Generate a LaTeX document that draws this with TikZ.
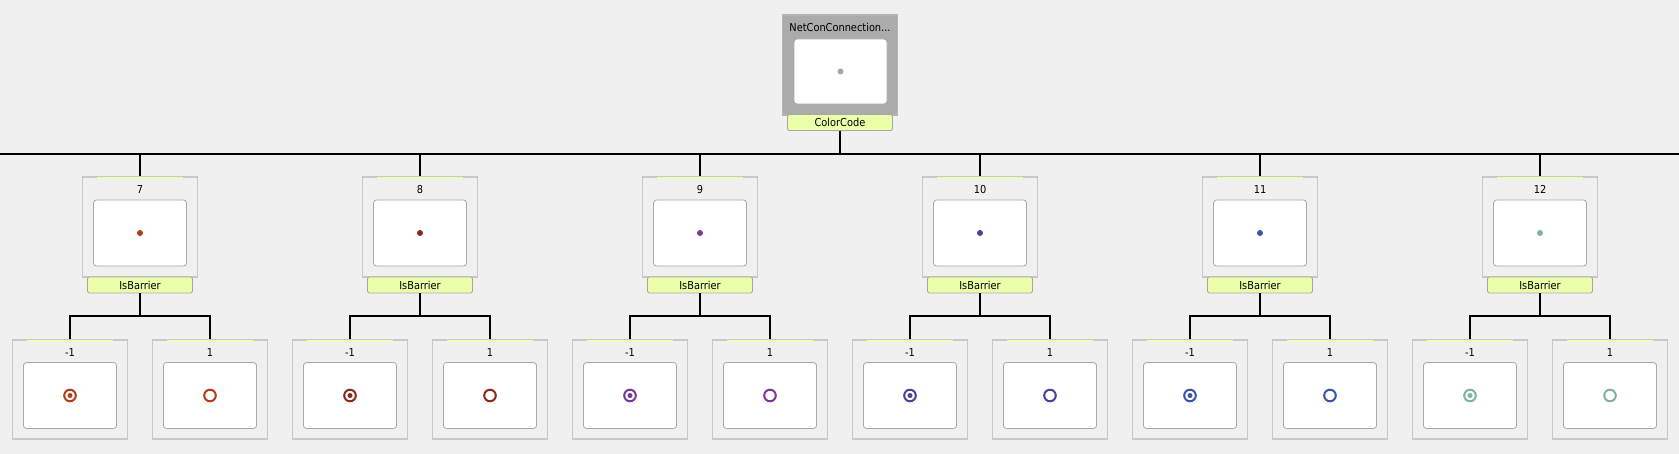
\documentclass[tikz,border=0pt]{standalone}
\usepackage{fontspec}
\setmainfont{DejaVu Sans Condensed}
\usetikzlibrary{calc}
\definecolor{bg}{HTML}{F0F0F0}
\definecolor{boxline}{HTML}{C8C8C8}
\definecolor{innerline}{HTML}{A8A8A8}
\definecolor{lblfill}{HTML}{EBFFAB}
\definecolor{lblline}{HTML}{A8A8A0}
\definecolor{stripecol}{HTML}{E6FFB4}
\definecolor{rootfill}{HTML}{ABABAB}
\definecolor{rootdot}{HTML}{A8A8A8}
\definecolor{cA}{HTML}{B23C18}
\definecolor{cB}{HTML}{8A2A1C}
\definecolor{cC}{HTML}{7A3898}
\definecolor{cD}{HTML}{4A4298}
\definecolor{cE}{HTML}{3B54A8}
\definecolor{cF}{HTML}{80B2A2}
\tikzset{
  outerbox/.style={rectangle, draw=boxline, line width=1.5pt, fill=bg, minimum width=115pt, minimum height=100pt, inner sep=0pt},
  rootbox/.style={outerbox, fill=rootfill, draw=boxline!90!black},
  innerbox/.style={rectangle, rounded corners=3pt, draw=innerline, line width=0.8pt, fill=white, minimum width=93pt, minimum height=66pt, inner sep=0pt},
  lblbox/.style={rectangle, rounded corners=1.5pt, draw=lblline, line width=0.8pt, fill=lblfill, minimum width=105pt, minimum height=16pt, inner sep=0pt, font=\fontsize{10.9}{12}\selectfont},
  stripe/.style={rectangle, fill=stripecol, minimum width=86pt, minimum height=2pt, inner sep=0pt},
  title/.style={inner sep=0pt, font=\fontsize{10.9}{12}\selectfont},
  conn/.style={draw=black, line width=2pt},
}
\begin{document}
\begin{tikzpicture}[x=1pt,y=-1pt]
\useasboundingbox[fill=bg] (0,0) rectangle (1679,454);
% root
\node[rootbox] (root) at (840,65) {};
\node[title] (roott) at (840,27.5) {NetConConnection...};
\node[innerbox, minimum height=65pt] (rooti) at (840.5,71.5) {};
\fill[rootdot] (rooti.center) circle[radius=3pt];
\node[lblbox] (rootl) at (840,122.5) {ColorCode};
\coordinate (busL) at (0,154);
\coordinate (busR) at (1679,154);
\draw[conn] (busL) -- (busR);
\draw[conn] (rootl.south) -- (rootl.south |- busL);
\foreach \cx/\n/\col in {140/7/cA, 420/8/cB, 700/9/cC, 980/10/cD, 1260/11/cE, 1540/12/cF}{
  \node[outerbox] (p\n) at (\cx,227) {};
  \node[stripe] (p\n s) at (\cx,178.5) {};
  \node[title] (p\n t) at (\cx,189.5) {\n};
  \node[innerbox] (p\n i) at (\cx,233) {};
  \fill[\col] (p\n i.center) circle[radius=3pt];
  \node[lblbox] (p\n l) at (\cx,285) {IsBarrier};
  \draw[conn] (p\n.north) -- (p\n.north |- busL);
  % children
  \node[outerbox, minimum height=99pt] (a\n) at (\cx-70,389.5) {};
  \node[stripe] (a\n s) at (\cx-70,341.5) {};
  \node[title] (a\n t) at (\cx-70,352.5) {-1};
  \node[innerbox] (a\n i) at (\cx-70,395.5) {};
  \draw[\col, line width=2pt] (a\n i.center) circle[radius=5.8pt];
  \fill[\col] (a\n i.center) circle[radius=2.5pt];
  \node[outerbox, minimum height=99pt] (b\n) at (\cx+70,389.5) {};
  \node[stripe] (b\n s) at (\cx+70,341.5) {};
  \node[title] (b\n t) at (\cx+70,352.5) {1};
  \node[innerbox] (b\n i) at (\cx+70,395.5) {};
  \draw[\col, line width=2pt] (b\n i.center) circle[radius=5.8pt];
  \coordinate (j\n) at ($(p\n l.south)+(0,23)$);
  \draw[conn] (p\n l.south) -- (j\n);
  \draw[conn] (j\n) -| (a\n.north);
  \draw[conn] (j\n) -| (b\n.north);
}
\end{tikzpicture}
\end{document}
